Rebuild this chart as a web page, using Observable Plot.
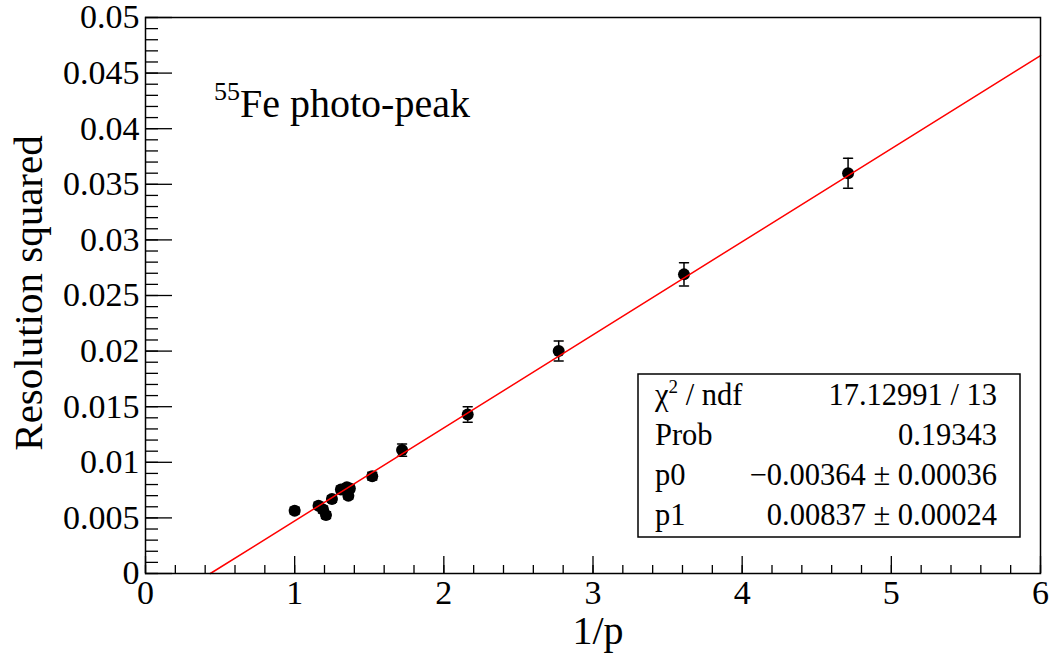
<!DOCTYPE html>
<html><head><meta charset="utf-8">
<script src="https://cdn.jsdelivr.net/npm/d3@7"></script>
<script src="https://cdn.jsdelivr.net/npm/@observablehq/plot@0.6"></script>
<style>html,body{margin:0;padding:0;background:#fff;} svg{display:block}</style>
</head><body><div id="chart"></div>
<script>
// Data
const invP   = [1.00, 1.16, 1.19, 1.21, 1.25, 1.31, 1.35, 1.36, 1.37, 1.52, 1.72, 2.16, 2.77, 3.61, 4.71];
const resSq  = [0.00565, 0.00610, 0.00575, 0.00525, 0.00670, 0.00755, 0.00775, 0.00700, 0.00765, 0.00875, 0.01110, 0.01430, 0.02000, 0.02690, 0.03600];
const resErr = [0.00030, 0.00030, 0.00030, 0.00030, 0.00030, 0.00030, 0.00030, 0.00030, 0.00030, 0.00035, 0.00055, 0.00070, 0.00090, 0.00105, 0.00135];
// Fit parameters (pol1)
const p0 = -0.00364, p1 = 0.00837;
const fitRange = [-p0 / p1, 6];
// Axis ticks
const xMajor = [0, 1, 2, 3, 4, 5, 6];
const xMinor = d3.range(0, 30.5).map(i => i / 5);
const yMajor = d3.range(0, 10.5).map(i => i * 0.005);
const yMinor = d3.range(0, 50.5).map(i => i * 0.001);
// Stats box text
const statsLabels = ["χ2 / ndf", "Prob", "p0", "p1"];
const statsValues = ["17.12991 / 13", "0.19343", "\u22120.00364 \u00b1 0.00036", "0.00837 \u00b1 0.00024"];

const points = invP.map((x, i) => ({x, y: resSq[i], e: resErr[i]}));
const fit = fitRange.map(x => ({x, y: p0 + p1 * x}));

const capShape = {draw(ctx, l) { ctx.moveTo(0, 0); ctx.lineTo(0, -l); }};
const font = "'Liberation Serif', 'Times New Roman', serif";
const yFmt = d => String(+d.toFixed(3));

const plot = Plot.plot({
  width: 1055, height: 655,
  marginLeft: 145, marginRight: 15, marginTop: 17, marginBottom: 82,
  style: {fontFamily: font, background: "white", color: "black", overflow: "visible"},
  x: {domain: [0, 6]},
  y: {domain: [0, 0.05]},
  marks: [
    Plot.axisX({ticks: xMinor, tickSize: -8, fill: "none", label: null, strokeWidth: 1.3}),
    Plot.axisX({ticks: xMajor, tickSize: -17, fill: "none", label: null, strokeWidth: 1.3}),
    Plot.axisX({ticks: xMajor, tickSize: 0, tickPadding: 6, fontSize: 34, tickFormat: d => String(d), label: null}),
    Plot.axisY({ticks: yMinor, tickSize: -13, fill: "none", label: null, strokeWidth: 1.3}),
    Plot.axisY({ticks: yMajor, tickSize: -27, fill: "none", label: null, strokeWidth: 1.3}),
    Plot.axisY({ticks: yMajor, tickSize: 0, tickPadding: 6, fontSize: 34, tickFormat: yFmt, label: null}),
    Plot.ruleX(points, {x: "x", y1: d => d.y - d.e, y2: d => d.y + d.e, stroke: "black", strokeWidth: 1.5}),
    Plot.vector(points, {x: "x", y: d => d.y + d.e, length: 9, rotate: 90, anchor: "middle", shape: capShape, stroke: "black", strokeWidth: 1.5}),
    Plot.vector(points, {x: "x", y: d => d.y - d.e, length: 9, rotate: 90, anchor: "middle", shape: capShape, stroke: "black", strokeWidth: 1.5}),
    Plot.dot(points, {x: "x", y: "y", r: 6, fill: "black", stroke: "none"}),
    Plot.line(fit, {x: "x", y: "y", stroke: "#ff0000", strokeWidth: 1.5}),
    Plot.frame({stroke: "black", strokeWidth: 1.5})
  ]
});
document.getElementById("chart").appendChild(plot);

const svg = d3.select(plot);
// axis titles
svg.append("text").attr("x", 598).attr("y", 644).attr("text-anchor", "middle")
  .attr("font-family", font).attr("font-size", 40).text("1/p");
svg.append("text").attr("transform", "translate(42,293) rotate(-90)").attr("text-anchor", "middle")
  .attr("font-family", font).attr("font-size", 41).text("Resolution squared");
// annotation
const t = svg.append("text").attr("x", 214).attr("y", 117).attr("text-anchor", "start")
  .attr("font-family", font).attr("font-size", 40);
t.append("tspan").attr("font-size", 26).attr("dy", -17).text("55");
t.append("tspan").attr("dy", 17).text("Fe photo-peak");
// stats box
const g = svg.append("g").attr("font-family", font).attr("font-size", 30.5);
g.append("rect").attr("x", 638).attr("y", 374).attr("width", 382).attr("height", 163)
  .attr("fill", "white").attr("stroke", "black").attr("stroke-width", 1.5);
statsLabels.forEach((lab, i) => {
  const yb = 405 + i * 40;
  const tl = g.append("text").attr("x", 655).attr("y", yb).attr("text-anchor", "start");
  if (lab.startsWith("χ2")) {
    tl.append("tspan").text("χ");
    tl.append("tspan").attr("font-size", 19).attr("dy", -12).text("2");
    tl.append("tspan").attr("dy", 12).text(" / ndf");
  } else tl.text(lab);
  g.append("text").attr("x", 997).attr("y", yb).attr("text-anchor", "end").text(statsValues[i]);
});
</script>
</body></html>
